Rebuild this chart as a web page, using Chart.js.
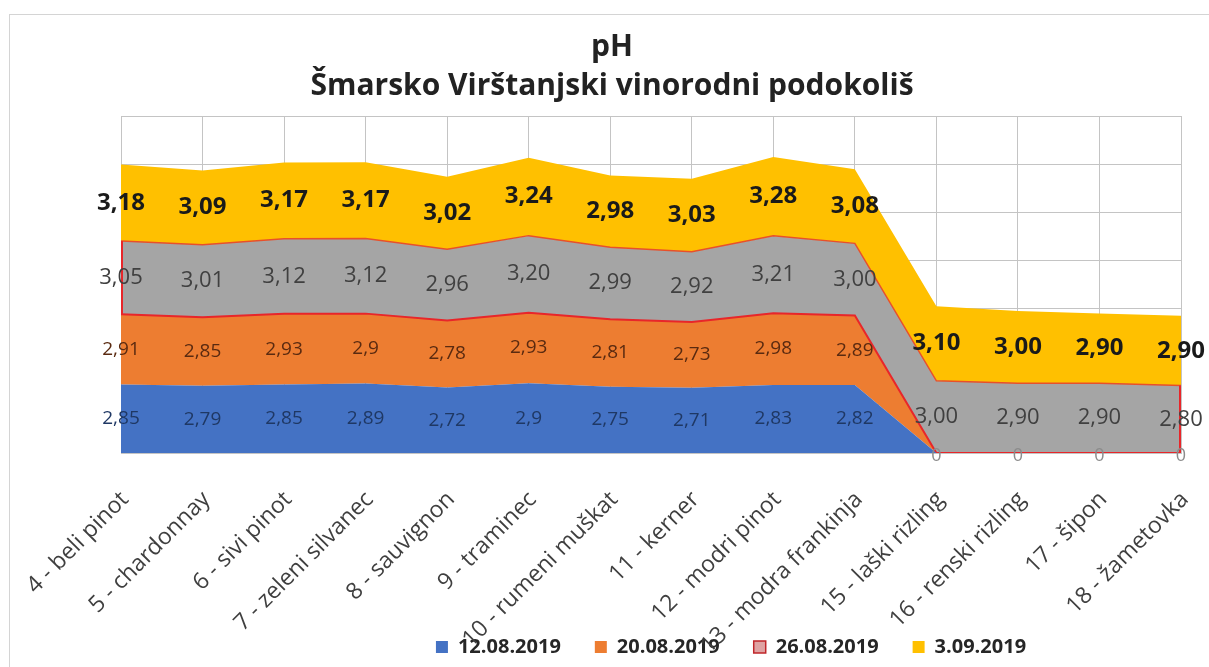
<!DOCTYPE html>
<html>
<head>
<meta charset="utf-8">
<script src="https://cdn.jsdelivr.net/npm/chart.js@4.4.1/dist/chart.umd.min.js"></script>
<style>
    html, body { margin: 0; padding: 0; background: #fff; overflow: hidden; }
    .frame { position: absolute; left: 9px; top: 14px; width: 1300px; height: 700px; border: 1px solid #d4d4d4; }
    .chart-box { position: absolute; left: 0; top: 0; width: 1209px; height: 667px; }
</style>
</head>
<body>
<div class="frame"></div>
<div class="chart-box"><canvas class="ph-chart"></canvas></div>
<script>
const categories = ['4 - beli pinot', '5 - chardonnay', '6 - sivi pinot', '7 - zeleni silvanec', '8 - sauvignon',
    '9 - traminec', '10 - rumeni muškat', '11 - kerner', '12 - modri pinot', '13 - modra frankinja',
    '15 - laški rizling', '16 - renski rizling', '17 - šipon', '18 - žametovka'];
const dates = ['12.08.2019', '20.08.2019', '26.08.2019', '3.09.2019'];

// values as shown in the sheet (decimal comma)
const ph12Aug = ['2,85', '2,79', '2,85', '2,89', '2,72', '2,9', '2,75', '2,71', '2,83', '2,82', '0', '0', '0', '0'];
const ph20Aug = ['2,91', '2,85', '2,93', '2,9', '2,78', '2,93', '2,81', '2,73', '2,98', '2,89', '0', '0', '0', '0'];
const ph26Aug = ['3,05', '3,01', '3,12', '3,12', '2,96', '3,20', '2,99', '2,92', '3,21', '3,00', '3,00', '2,90', '2,90', '2,80'];
const ph3Sep = ['3,18', '3,09', '3,17', '3,17', '3,02', '3,24', '2,98', '3,03', '3,28', '3,08', '3,10', '3,00', '2,90', '2,90'];

const toNum = s => parseFloat(s.replace(',', '.'));
const FONT = '"Open Sans", Lato, sans-serif';

let phChart

document.addEventListener('DOMContentLoaded', () => {
    phChart = createChart();
});

// data labels in the middle of each band + red outline ends of the 26.08 area
const bandLabels = {
    id: 'bandLabels',
    afterDatasetsDraw(chart) {
        const ctx = chart.ctx;
        const zeroY = chart.scales.y.getPixelForValue(0);
        const m1 = chart.getDatasetMeta(1), m2 = chart.getDatasetMeta(2);
        const last = categories.length - 1;

        ctx.save();
        ctx.strokeStyle = '#e8262a';
        ctx.lineWidth = 2;
        ctx.beginPath();
        ctx.moveTo(m2.data[0].x + 1, m1.data[0].y);
        ctx.lineTo(m2.data[0].x + 1, m2.data[0].y);
        ctx.moveTo(m2.data[last].x - 1, zeroY);
        ctx.lineTo(m2.data[last].x - 1, m2.data[last].y);
        ctx.stroke();

        ctx.textAlign = 'center';
        ctx.textBaseline = 'middle';
        chart.data.datasets.forEach((ds, di) => {
            const meta = chart.getDatasetMeta(di);
            const below = di > 0 ? chart.getDatasetMeta(di - 1) : null;
            ds.labelText.forEach((txt, i) => {
                const pt = meta.data[i];
                const baseY = below ? below.data[i].y : zeroY;
                if (ds.data[i] === 0) {
                    if (di !== 1) return;
                    ctx.fillStyle = '#8c8c8c';
                    ctx.font = '18px ' + FONT;
                    ctx.fillText(txt, pt.x, zeroY + 3);
                    return;
                }
                ctx.fillStyle = ds.labelColor;
                ctx.font = ds.labelFont;
                ctx.fillText(txt, pt.x, (pt.y + baseY) / 2);
            });
        });
        ctx.restore();
    }
};

// Excel centres title and legend on its own chart area, not the plot
const shiftBoxes = {
    id: 'shiftBoxes',
    afterLayout(chart) {
        chart.titleBlock.left -= 39;
        chart.titleBlock.right -= 39;
        chart.legend.left += 80;
        chart.legend.right += 80;
        chart.legend.top -= 27;
        chart.scales.x.bottom = chart.height;   // don't clip the long rotated labels
    }
};

function makeDataset(label, values, fill, border, borderWidth, labelColor, labelFont, fillTarget) {
    return {
        label: label,
        data: values.map(toNum),
        labelText: values,
        labelColor: labelColor,
        labelFont: labelFont,
        backgroundColor: fill,
        borderColor: border,
        borderWidth: borderWidth,
        fill: fillTarget,
        pointRadius: 0,
        pointHoverRadius: 0,
        tension: 0,
    };
}

function createChart() {
    const ctx = document.querySelector('.ph-chart').getContext('2d');
    const legendFill = ['#4472c4', '#ed7d31', '#dfa3a3', '#ffc000'];
    const legendStroke = ['#4472c4', '#ed7d31', '#c0262a', '#ffc000'];
    return new Chart(ctx, {
        type: 'line',
        data: {
            labels: categories,
            datasets: [
                makeDataset(dates[0], ph12Aug, '#4472c4', '#4472c4', 0, '#1f3864', '19px ' + FONT, 'origin'),
                makeDataset(dates[1], ph20Aug, '#ed7d31', '#e8262a', 2, '#5a2a10', '19px ' + FONT, '-1'),
                makeDataset(dates[2], ph26Aug, '#a5a5a5', '#e8502a', 1.5, '#404040', '22px ' + FONT, '-1'),
                makeDataset(dates[3], ph3Sep, '#ffc000', '#ffc000', 0, '#1a1a1a', 'bold 24px ' + FONT, '-1'),
            ]
        },
        plugins: [bandLabels, shiftBoxes],
        options: {
            responsive: true,
            maintainAspectRatio: false,
            animation: false,
            layout: { padding: { left: 121, right: 28, top: 0, bottom: 0 } },
            plugins: {
                title: {
                    display: true,
                    text: ['pH', 'Šmarsko Virštanjski vinorodni podokoliš'],
                    color: '#222',
                    font: { family: FONT, size: 30, weight: 'bold', lineHeight: 1.3 },
                    padding: { top: 28, bottom: 10 },
                },
                legend: {
                    position: 'bottom',
                    maxHeight: 37,
                    labels: {
                        boxWidth: 12,
                        boxHeight: 12,
                        padding: 34,
                        color: '#262626',
                        font: { family: FONT, size: 20, weight: 'bold' },
                        generateLabels(chart) {
                            const items = Chart.defaults.plugins.legend.labels.generateLabels(chart);
                            items.forEach((it, i) => {
                                it.fillStyle = legendFill[i];
                                it.strokeStyle = legendStroke[i];
                                it.lineWidth = i === 2 ? 1.5 : 0;
                            });
                            return items;
                        }
                    }
                },
                tooltip: { enabled: false },
            },
            scales: {
                x: {
                    offset: false,
                    grid: { color: '#c4c4c4', drawTicks: false },
                    border: { color: '#c4c4c4' },
                    ticks: {
                        color: '#3f3f3f',
                        font: { family: FONT, size: 23 },
                        minRotation: 45,
                        maxRotation: 45,
                        autoSkip: false,
                        labelOffset: 4,
                        padding: 33,
                    },
                    afterFit(scale) {
                        scale.height = 177;
                        scale.paddingLeft = 0;
                        scale.paddingRight = 0;
                    }
                },
                y: {
                    stacked: true,
                    min: 0,
                    max: 14,
                    grid: { color: '#c4c4c4', drawTicks: false },
                    border: { display: false },
                    ticks: { display: false, stepSize: 2 },
                    afterFit(scale) { scale.width = 0; }
                }
            }
        }
    });
}
</script>
</body>
</html>
